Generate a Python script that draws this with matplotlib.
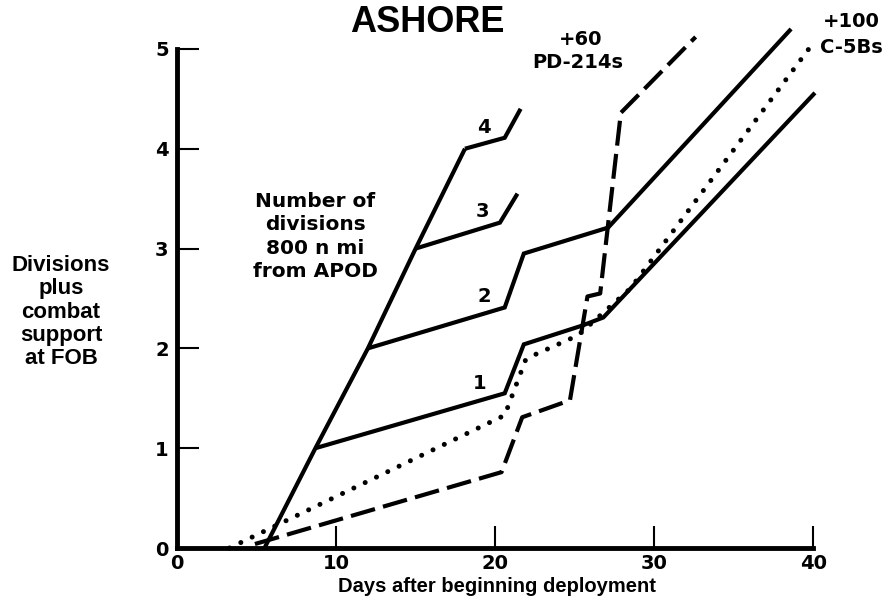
import matplotlib
matplotlib.use("Agg")
import matplotlib.pyplot as plt

plt.rcParams["font.family"] = ["Liberation Sans", "DejaVu Sans"]
WIDE = ["DejaVu Sans"]

# divisions build-up (solid)
spine_x = [5.5, 8.7, 12.0, 15.0, 18.1]
spine_y = [0.0, 1.0, 2.0, 3.0, 4.0]

div4_x = [18.1, 20.6, 21.6]
div4_y = [4.0, 4.11, 4.40]
div3_x = [15.0, 20.3, 21.4]
div3_y = [3.0, 3.26, 3.55]
div2_x = [12.0, 20.6, 21.8, 27.1, 38.6]
div2_y = [2.0, 2.41, 2.95, 3.21, 5.2]
div1_x = [8.7, 20.6, 21.8, 25.5, 26.8, 40.1]
div1_y = [1.0, 1.55, 2.04, 2.23, 2.31, 4.56]

# +60 PD-214s (dashed)
pd214_x = [4.9, 20.4, 21.7, 24.7, 25.8, 26.6, 27.9, 32.6]
pd214_y = [0.04, 0.76, 1.31, 1.48, 2.52, 2.55, 4.36, 5.12]

# +100 C-5Bs (dotted)
c5b_x = [3.3, 20.6, 21.9, 22.4, 25.2, 28.5, 39.9]
c5b_y = [0.0, 1.33, 1.88, 1.93, 2.13, 2.6, 5.04]

branch_labels = ["1", "2", "3", "4"]
branch_label_x = [19.05, 19.3, 19.2, 19.3]
branch_label_y = [1.65, 2.52, 3.37, 4.21]

x_ticks = [0, 10, 20, 30, 40]
y_ticks = [0, 1, 2, 3, 4, 5]


fig = plt.figure(figsize=(8.91, 6.01), dpi=100)
ax = fig.add_axes([177 / 891, 53 / 601, 700 / 891, 539 / 601])
ax.set_xlim(0, 44)
ax.set_ylim(0, 5.4)

lw = 3.0
for xs, ys in [(spine_x, spine_y), (div4_x, div4_y), (div3_x, div3_y),
               (div2_x, div2_y), (div1_x, div1_y)]:
    ax.plot(xs, ys, color="black", lw=lw, solid_capstyle="butt",
            solid_joinstyle="miter", clip_on=False)

ax.plot(pd214_x, pd214_y, color="black", lw=lw, linestyle=(0, (6, 2)),
        dash_capstyle="butt", clip_on=False)
ax.plot(c5b_x, c5b_y, color="black", lw=3.6, linestyle=(0, (0.01, 2.5)),
        dash_capstyle="round", clip_on=False)

txt = dict(ha="center", va="center", fontweight="bold", family=WIDE)
for t, bx, by in zip(branch_labels, branch_label_x, branch_label_y):
    ax.text(bx, by, t, fontsize=14, **txt)

ax.text(8.7, 3.12, "Number of\ndivisions\n800 n mi\nfrom APOD",
        fontsize=14.5, linespacing=1.3, **txt)
ax.text(25.4, 5.09, "+60", fontsize=14, **txt)
ax.text(25.2, 4.86, "PD-214s", fontsize=14, **txt)
ax.text(42.4, 5.27, "+100", fontsize=14, **txt)
ax.text(42.4, 5.01, "C-5Bs", fontsize=14, **txt)

# axes styling
for s in ["top", "right"]:
    ax.spines[s].set_visible(False)
ax.spines["left"].set_bounds(0, 5)
ax.spines["bottom"].set_bounds(0, 40)
ax.spines["left"].set_linewidth(3.5)
ax.spines["bottom"].set_linewidth(3.5)
ax.set_xticks(x_ticks)
ax.set_yticks(y_ticks)
ax.set_xticklabels([str(v) for v in x_ticks])
ax.set_yticklabels([str(v) for v in y_ticks])
ax.tick_params(direction="in", length=16, width=1.5, labelsize=14, pad=4)
ax.tick_params(axis="y", pad=6)
for lab in ax.get_xticklabels() + ax.get_yticklabels():
    lab.set_fontweight("bold")
    lab.set_family(WIDE)

fig.text(427 / 891, 1 - 22 / 601, "ASHORE", ha="center", va="center",
         fontsize=26, fontweight="bold")
fig.text(61 / 891, 1 - 312 / 601, "Divisions\nplus\ncombat\nsupport\nat FOB",
         ha="center", va="center", fontsize=16, fontweight="bold",
         linespacing=1.15)
fig.text(497 / 891, 1 - 587 / 601, "Days after beginning deployment",
         ha="center", va="center", fontsize=14.5, fontweight="bold")

fig.savefig("out.png", dpi=100)
